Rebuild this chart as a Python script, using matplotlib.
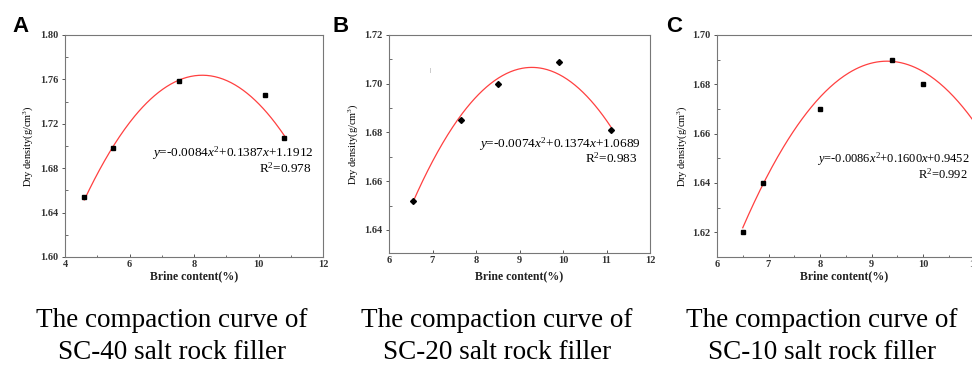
import matplotlib
matplotlib.use("Agg")
import matplotlib.pyplot as plt
import numpy as np
from matplotlib.ticker import MultipleLocator, FuncFormatter

# ---- data ----
a_x = [4.6, 5.5, 7.55, 10.2, 10.8]
a_y = [1.654, 1.698, 1.759, 1.746, 1.707]
a_coef = [-0.0084, 0.1387, 1.1912]
a_eq = r"$y$=-0.0084$x^2$+0.1387$x$+1.1912"
a_r2 = r"R$^2$=0.978"

b_x = [6.55, 7.65, 8.5, 9.9, 11.1]
b_y = [1.652, 1.685, 1.700, 1.709, 1.681]
b_coef = [-0.0074, 0.1374, 1.0689]
b_eq = r"$y$=-0.0074$x^2$+0.1374$x$+1.0689"
b_r2 = r"R$^2$=0.983"

c_x = [6.5, 6.9, 8.0, 9.4, 10.0]
c_y = [1.620, 1.640, 1.670, 1.690, 1.680]
c_coef = [-0.0086, 0.1600, 0.9452]
c_eq = r"$y$=-0.0086$x^2$+0.1600$x$+0.9452"
c_r2 = r"R$^2$=0.992"

caption_line1 = "The compaction curve of"
caption_line2 = ["SC-40 salt rock filler", "SC-20 salt rock filler", "SC-10 salt rock filler"]
letters = ["A", "B", "C"]

plt.rcParams['font.family'] = ['Liberation Serif', 'DejaVu Serif']
plt.rcParams['mathtext.fontset'] = 'custom'
plt.rcParams['mathtext.rm'] = 'Liberation Serif'
plt.rcParams['mathtext.it'] = 'Liberation Serif:italic'

W, H = 972, 367
fig = plt.figure(figsize=(W / 100, H / 100), dpi=100)

def px_axes(l, r, t, b):
    return fig.add_axes([l / W, 1 - b / H, (r - l) / W, (b - t) / H])

def ftext(x, y, s, **kw):
    return fig.text(x / W, 1 - y / H, s, **kw)

specs = [
    dict(box=(65, 323, 35, 257), xlim=(4, 12), ylim=(1.60, 1.80), xmaj=2, xmin=1,
         ymaj=0.04, ymin=0.02, x=a_x, y=a_y, coef=a_coef, fit=(4.6, 10.8),
         eq=a_eq, r2=a_r2, eqpos=(314, 157), r2pos=(312, 173), eqfs=9.5, marker='s'),
    dict(box=(389, 650, 35, 253), xlim=(6, 12), ylim=(1.6305, 1.72), xmaj=1, xmin=None,
         ymaj=0.02, ymin=0.01, x=b_x, y=b_y, coef=b_coef, fit=(6.55, 11.1),
         eq=b_eq, r2=b_r2, eqpos=(641, 148), r2pos=(638, 163), eqfs=9.5, marker='D'),
    dict(box=(717, 974.5, 35, 257), xlim=(6, 11), ylim=(1.61, 1.70), xmaj=1, xmin=0.5,
         ymaj=0.02, ymin=0.01, x=c_x, y=c_y, coef=c_coef, fit=(6.5, 11.0),
         eq=c_eq, r2=c_r2, eqpos=(970, 163), r2pos=(968, 179), eqfs=9.0, marker='s'),
]

letter_pos = [(12, 32), (332, 32), (666, 32)]
ylab_x = [28, 353, 682]
cap_cx = [172, 497, 822]

for i, s in enumerate(specs):
    l, r, t, b = s['box']
    ax = px_axes(l, r, t, b)
    ax.set_xlim(*s['xlim'])
    ax.set_ylim(*s['ylim'])
    ax.xaxis.set_major_locator(MultipleLocator(s['xmaj']))
    if s['xmin']:
        ax.xaxis.set_minor_locator(MultipleLocator(s['xmin']))
    ax.yaxis.set_major_locator(MultipleLocator(s['ymaj']))
    ax.yaxis.set_minor_locator(MultipleLocator(s['ymin']))
    ax.yaxis.set_major_formatter(FuncFormatter(lambda v, p: "{:.2f}".format(v)))
    ax.tick_params(which='both', top=False, right=False, color='#555555')
    ax.tick_params(axis='x', which='both', direction='in')
    ax.tick_params(axis='y', which='major', direction='out')
    ax.tick_params(axis='y', which='minor', direction='in')
    ax.tick_params(which='major', length=2.5, width=0.7, pad=2)
    ax.tick_params(which='minor', length=1.8, width=0.6)
    for lab in ax.get_xticklabels() + ax.get_yticklabels():
        lab.set_fontsize(7.5)
        lab.set_fontweight('bold')
        lab.set_color('#333333')
    for sp in ax.spines.values():
        sp.set_color('#777777')
        sp.set_linewidth(0.8)
    xs = np.linspace(s['fit'][0], s['fit'][1], 200)
    ax.plot(xs, np.polyval(s['coef'], xs), color='#ff4040', lw=0.9)
    ax.plot(s['x'], s['y'], linestyle='none', marker=s['marker'],
            ms=3.2 if s['marker'] == 's' else 3.0, color='black', zorder=3)
    ftext(s['eqpos'][0], s['eqpos'][1], s['eq'], ha='right', va='baseline', fontsize=s['eqfs'])
    ftext(s['r2pos'][0], s['r2pos'][1], s['r2'], ha='right', va='baseline', fontsize=s['eqfs'])
    xl_cx = (l + min(r, 972)) / 2
    ftext(xl_cx, 276, "Brine content(%)", ha='center', va='center',
          fontsize=8.5, fontweight='bold', color='#222222')
    ftext(ylab_x[i], (t + b) / 2, "Dry density(g/cm$^3$)",
          rotation=90, ha='center', va='center', fontsize=7.5)
    ftext(letter_pos[i][0], letter_pos[i][1], letters[i],
          fontsize=16, fontweight='bold', family='Liberation Sans', ha='left', va='baseline')
    if i == 1:
        ax.text(6.95, 1.7055, "|", fontsize=4, color='#444444', ha='center', va='center')
    ftext(cap_cx[i], 327, caption_line1, ha='center', va='baseline', fontsize=19.5)
    ftext(cap_cx[i], 359, caption_line2[i], ha='center', va='baseline', fontsize=19.5)

fig.savefig("out.png", dpi=100)
